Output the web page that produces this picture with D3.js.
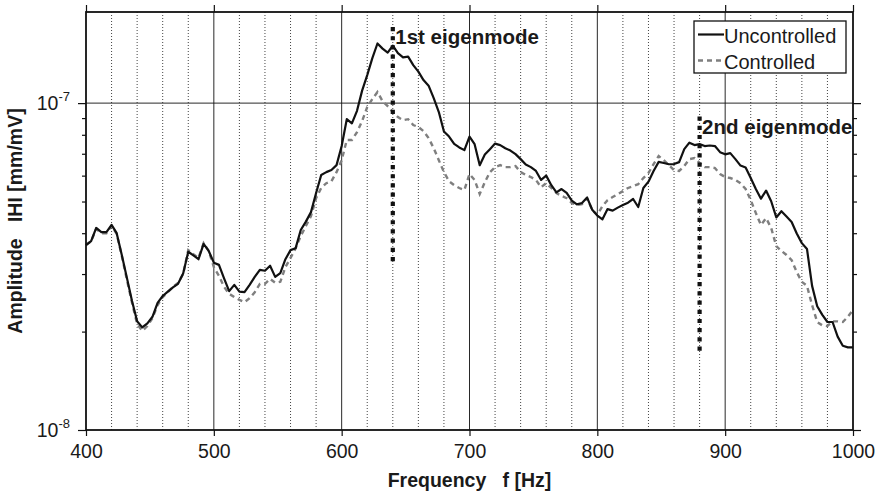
<!DOCTYPE html>
<html>
<head>
<meta charset="utf-8">
<script src="https://cdnjs.cloudflare.com/ajax/libs/d3/7.8.5/d3.min.js"></script>
<style>
  html, body { margin: 0; padding: 0; background: #fff; }
  svg { display: block; font-family: "Liberation Sans", Arial, Helvetica, sans-serif; }
</style>
</head>
<body>
<svg id="chart" width="880" height="494"></svg>
<script>
// ---------------- data ----------------
const frequency = [
  400,404,408,412,416,420,424,428,432,436,
  440,444,448,452,456,460,464,468,472,476,
  480,484,488,492,496,500,504,508,512,516,
  520,524,528,532,536,540,544,548,552,556,
  560,564,568,572,576,580,584,588,592,596,
  600,604,608,612,616,620,624,628,632,636,
  640,644,648,652,656,660,664,668,672,676,
  680,684,688,692,696,700,704,708,712,716,
  720,724,728,732,736,740,744,748,752,756,
  760,764,768,772,776,780,784,788,792,796,
  800,804,808,812,816,820,824,828,832,836,
  840,844,848,852,856,860,864,868,872,876,
  880,884,888,892,896,900,904,908,912,916,
  920,924,928,932,936,940,944,948,952,956,
  960,964,968,972,976,980,984,988,992,996,
  1000
];
const amplitudeUnit = 1e-8; // values below are in units of 1e-8 mm/mV
const uncontrolled = [
  3.68,3.78,4.15,4.03,4.03,4.24,4.00,3.43,2.92,2.48,
  2.15,2.06,2.12,2.22,2.45,2.57,2.65,2.73,2.80,3.01,
  3.51,3.42,3.33,3.71,3.53,3.25,3.20,2.91,2.66,2.78,
  2.65,2.64,2.78,2.94,3.09,3.07,3.18,2.94,3.02,3.33,
  3.55,3.60,4.09,4.34,4.64,5.31,6.03,6.15,6.24,6.46,
  7.39,8.93,8.67,9.47,10.92,12.18,13.73,15.22,14.68,14.27,
  15.00,14.22,13.80,13.87,13.07,12.48,11.76,11.31,10.36,9.39,
  8.19,7.90,7.50,7.32,7.18,7.90,7.49,6.46,6.96,7.23,
  7.52,7.44,7.28,7.16,6.98,6.74,6.49,6.37,6.20,5.82,
  6.00,5.61,5.33,5.46,5.31,5.03,4.90,4.95,5.14,4.72,
  4.53,4.41,4.74,4.69,4.79,4.88,4.96,5.09,4.81,5.50,
  5.75,6.20,6.61,6.56,6.50,6.51,6.60,7.23,7.57,7.44,
  7.49,7.39,7.42,7.39,7.08,6.97,7.03,6.74,6.44,6.35,
  5.90,5.46,5.10,5.40,5.01,4.47,4.67,4.50,4.33,3.99,
  3.73,3.58,2.76,2.39,2.25,2.14,2.14,1.93,1.81,1.79,
  1.79
];
const controlled = [
  3.68,3.78,4.12,4.00,4.00,4.21,3.98,3.41,2.88,2.45,
  2.11,2.01,2.08,2.20,2.41,2.55,2.64,2.74,2.82,3.00,
  3.55,3.45,3.36,3.73,3.53,3.15,2.96,2.74,2.61,2.55,
  2.50,2.46,2.53,2.64,2.80,2.80,2.90,2.82,2.84,3.15,
  3.36,3.60,3.92,4.21,4.51,5.12,5.50,5.69,5.77,6.15,
  6.69,7.71,7.71,8.15,8.81,9.72,10.29,10.81,10.14,9.79,
  9.39,9.06,8.87,8.93,8.57,8.45,8.21,7.82,7.28,6.69,
  6.15,5.77,5.61,5.50,5.42,6.07,5.82,5.27,5.73,6.15,
  6.37,6.46,6.37,6.37,6.42,6.15,6.03,5.94,5.82,5.53,
  5.69,5.50,5.31,5.20,5.12,4.95,4.88,4.91,5.12,4.71,
  4.55,4.84,5.05,5.16,5.27,5.38,5.50,5.57,5.65,5.90,
  6.11,6.51,6.89,6.69,6.46,6.24,6.20,6.42,6.74,6.79,
  6.56,6.37,6.37,6.33,6.07,5.94,5.90,5.82,5.69,5.46,
  5.05,4.61,4.24,4.45,4.15,3.65,3.53,3.43,3.31,3.04,
  2.84,2.76,2.41,2.14,2.09,2.08,2.15,2.15,2.14,2.22,
  2.33
];
const xMajorTicks = [400,500,600,700,800,900,1000];
const xMinorGrid = [420,440,460,480,520,540,560,580,620,640,660,680,720,740,760,780,820,840,860,880,920,940,960,980];
const yMajorTicks = [1e-8, 1e-7];
const yMinorTicks = [2e-8,3e-8,4e-8,5e-8,6e-8,7e-8,8e-8,9e-8];
const yTickExponents = ["-8", "-7"];
const seriesNames = ["Uncontrolled", "Controlled"];
const eigenFreqs = [640, 880];
const eigenLabels = ["1st eigenmode", "2nd eigenmode"];
const eigenTop = [1.71e-7, 9.1e-8];
const eigenBottom = [3.2e-8, 1.7e-8];
const xTitle = "Frequency   f [Hz]";
const yTitle = "Amplitude   IHI [mm/mV]";

// ---------------- layout ----------------
const L = 86, R = 853, T = 12, B = 430;
const svg = d3.select("#chart");
const x = d3.scaleLinear().domain([400, 1000]).range([L, R]);
const y = d3.scaleLog().domain([1e-8, 1.9e-7]).range([B, T]);
const ink = "#111";

// grid: minor dotted verticals
svg.append("g").selectAll("line").data(xMinorGrid).join("line")
  .attr("x1", d => x(d)).attr("x2", d => x(d)).attr("y1", T).attr("y2", B)
  .attr("stroke", "#444").attr("stroke-width", 1).attr("stroke-dasharray", "1,2");
// major solid verticals
svg.append("g").selectAll("line").data(xMajorTicks.slice(1, -1)).join("line")
  .attr("x1", d => x(d)).attr("x2", d => x(d)).attr("y1", T).attr("y2", B)
  .attr("stroke", ink).attr("stroke-width", 0.9);
// major horizontal
svg.append("g").selectAll("line").data(yMajorTicks.filter(v => v > 1e-8)).join("line")
  .attr("x1", L).attr("x2", R).attr("y1", d => y(d)).attr("y2", d => y(d))
  .attr("stroke", ink).attr("stroke-width", 0.9);

// axes
const xAxisB = svg.append("g").attr("transform", `translate(0,${B})`)
  .call(d3.axisBottom(x).tickValues(xMajorTicks).tickSizeInner(6).tickSizeOuter(0).tickFormat(d3.format("d")));
xAxisB.select(".domain").remove();
xAxisB.attr("font-family", null).attr("font-size", null);
xAxisB.selectAll("text").attr("y", 28).attr("dy", 0).attr("font-size", 19.5).attr("fill", "#1a1a1a");
xAxisB.selectAll("line").attr("stroke", ink).attr("stroke-width", 1.2);

const xAxisT = svg.append("g").attr("transform", `translate(0,${T})`)
  .call(d3.axisTop(x).tickValues(xMajorTicks).tickSizeInner(7).tickSizeOuter(0).tickFormat(""));
xAxisT.select(".domain").remove();
xAxisT.selectAll("line").attr("stroke", ink).attr("stroke-width", 1.2);

function yAxisSide(gen, pos, labels) {
  const gMaj = svg.append("g").attr("transform", `translate(${pos},0)`)
    .call(gen(y).tickValues(yMajorTicks).tickSizeInner(8).tickSizeOuter(0).tickFormat(""));
  gMaj.select(".domain").remove();
  gMaj.selectAll("line").attr("stroke", ink).attr("stroke-width", 1.2);
  const gMin = svg.append("g").attr("transform", `translate(${pos},0)`)
    .call(gen(y).tickValues(yMinorTicks).tickSizeInner(4).tickSizeOuter(0).tickFormat(""));
  gMin.select(".domain").remove();
  gMin.selectAll("line").attr("stroke", ink).attr("stroke-width", 1.2);
  if (labels) {
    const t = svg.append("g").selectAll("text").data(yMajorTicks).join("text")
      .attr("x", pos - 16).attr("y", d => y(d) + 7)
      .attr("text-anchor", "end").attr("font-size", 19.5).attr("fill", "#1a1a1a");
    t.append("tspan").text("10");
    t.append("tspan").attr("dy", -9).attr("font-size", 13).text((d, i) => yTickExponents[i]);
  }
}
yAxisSide(d3.axisLeft, L, true);
yAxisSide(d3.axisRight, R, false);

// data lines
const pts = arr => frequency.map((f, i) => [f, arr[i] * amplitudeUnit]);
const line = d3.line().x(d => x(d[0])).y(d => y(d[1]));
svg.append("path").datum(pts(controlled)).attr("d", line)
  .attr("fill", "none").attr("stroke", "#7f7f7f").attr("stroke-width", 2.4)
  .attr("stroke-dasharray", "5,4");
svg.append("path").datum(pts(uncontrolled)).attr("d", line)
  .attr("fill", "none").attr("stroke", ink).attr("stroke-width", 2.2)
  .attr("stroke-linejoin", "round");

// eigenmode markers
eigenFreqs.forEach((f, i) => {
  svg.append("line")
    .attr("x1", x(f)).attr("x2", x(f)).attr("y1", y(eigenTop[i])).attr("y2", y(eigenBottom[i]))
    .attr("stroke", ink).attr("stroke-width", 4.2).attr("stroke-dasharray", "4.2,5");
  svg.append("text")
    .attr("x", x(f) + 2.5).attr("y", y(eigenTop[i]) + 17)
    .attr("font-size", 20.5).attr("font-weight", "bold").attr("fill", "#1a1a1a")
    .text(eigenLabels[i]);
});

// frame
svg.append("rect").attr("x", L).attr("y", T).attr("width", R - L).attr("height", B - T)
  .attr("fill", "none").attr("stroke", ink).attr("stroke-width", 1.8);

// legend
const lg = svg.append("g").attr("transform", "translate(694,21)");
lg.append("rect").attr("width", 152).attr("height", 52)
  .attr("fill", "#fff").attr("stroke", ink).attr("stroke-width", 1.3);
seriesNames.forEach((name, i) => {
  const yy = 13.5 + i * 26;
  lg.append("line").attr("x1", 4).attr("x2", 30).attr("y1", yy).attr("y2", yy)
    .attr("stroke", i === 0 ? ink : "#7f7f7f").attr("stroke-width", i === 0 ? 2.2 : 2.4)
    .attr("stroke-dasharray", i === 0 ? null : "5,4");
  lg.append("text").attr("x", 30).attr("y", yy + 8)
    .attr("font-size", 20).attr("fill", "#1a1a1a").text(name);
});

// axis titles
svg.append("text").attr("x", (L + R) / 2).attr("y", 487)
  .attr("text-anchor", "middle").attr("font-size", 19.5).attr("font-weight", "bold")
  .attr("fill", "#1a1a1a").style("white-space", "pre").text(xTitle);
svg.append("text").attr("transform", `translate(22,${(T + B) / 2}) rotate(-90)`)
  .attr("text-anchor", "middle").attr("font-size", 19.5).attr("font-weight", "bold")
  .attr("fill", "#1a1a1a").style("white-space", "pre").text(yTitle);
</script>
</body>
</html>
